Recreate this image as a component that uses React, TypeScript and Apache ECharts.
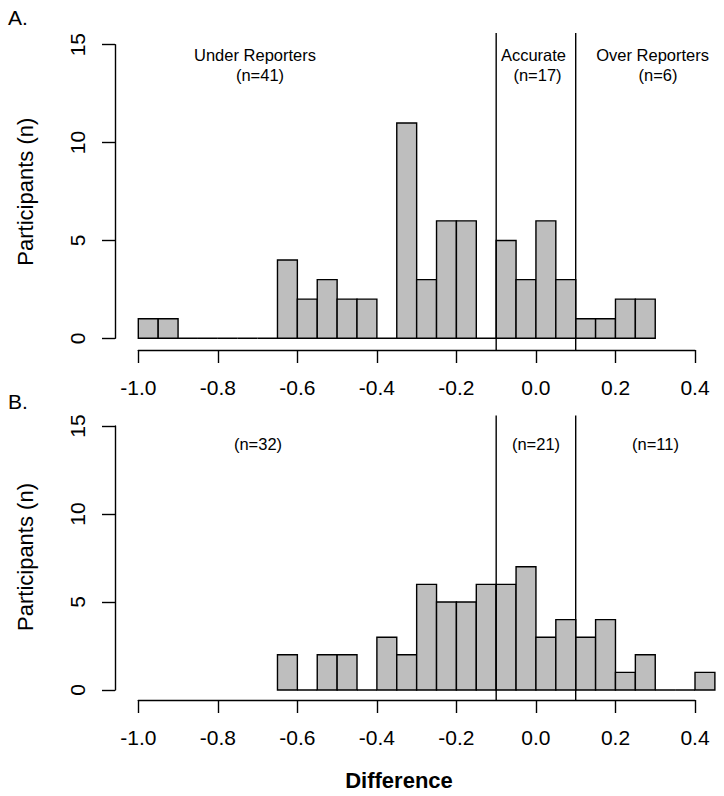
import React, { useEffect, useRef } from "react";
import * as echarts from "echarts";

// Bin left edges (width 0.05) and counts
const binStartsA = [-1.0, -0.95, -0.9, -0.85, -0.8, -0.75, -0.7, -0.65, -0.6, -0.55, -0.5, -0.45, -0.4, -0.35, -0.3, -0.25, -0.2, -0.15, -0.1, -0.05, 0.0, 0.05, 0.1, 0.15, 0.2, 0.25];
const countsA = [1, 1, 0, 0, 0, 0, 0, 4, 2, 3, 2, 2, 0, 11, 3, 6, 6, 0, 5, 3, 6, 3, 1, 1, 2, 2];
const binStartsB = [-0.65, -0.6, -0.55, -0.5, -0.45, -0.4, -0.35, -0.3, -0.25, -0.2, -0.15, -0.1, -0.05, 0.0, 0.05, 0.1, 0.15, 0.2, 0.25, 0.3, 0.35, 0.4];
const countsB = [2, 0, 2, 2, 0, 3, 2, 6, 5, 5, 6, 6, 7, 3, 4, 3, 4, 1, 2, 0, 0, 1];
const binWidth = 0.05;
const cutoffs = [-0.1, 0.1];
const xTicks = { min: -1.0, max: 0.4, interval: 0.2 };
const yTicks = { min: 0, max: 15, interval: 5 };
const groupLabelsA = [["Under Reporters", "(n=41)"], ["Accurate", "(n=17)"], ["Over Reporters", "(n=6)"]];
const groupLabelsB = ["(n=32)", "(n=21)", "(n=11)"];

const FONT = '"Liberation Sans", Arial, Helvetica, sans-serif';
const GX = 138.3;
const GW = 556.7;
const GA = { top: 44.7, height: 293.6 };
const GB = { top: 426, height: 264 };

function text(x: number, y: number, t: string, size: number, opts: any = {}) {
  const align = opts.align || "center";
  return {
    type: "text",
    x,
    y,
    rotation: opts.rotation || 0,
    silent: true,
    style: {
      text: t,
      fill: "#000",
      font: `${opts.weight || "normal"} ${size}px ${FONT}`,
      align,
      verticalAlign: "middle",
      textAlign: align,
      textVerticalAlign: "middle",
    },
  };
}

export default function App() {
  const ref = useRef<HTMLDivElement>(null);
  useEffect(() => {
    if (!ref.current) return;
    const chart = echarts.init(ref.current, undefined, { renderer: "svg" });
    const histData = (starts: number[], counts: number[]) =>
      starts.map((s, i) => [s, s + binWidth, counts[i]]);
    const renderBar = (params: any, api: any) => {
      const p0 = api.coord([api.value(0), 0]);
      const p1 = api.coord([api.value(1), api.value(2)]);
      return {
        type: "rect",
        shape: { x: p0[0], y: p1[1], width: p1[0] - p0[0], height: p0[1] - p1[1] },
        style: { fill: "#bebebe", stroke: "#000", lineWidth: 1.4 },
      };
    };
    const xAxisBase = (gridIndex: number, offset: number) => ({
      type: "value",
      gridIndex,
      min: xTicks.min,
      max: xTicks.max,
      interval: xTicks.interval,
      offset,
      axisLine: { show: true, onZero: false, lineStyle: { color: "#000", width: 1.4 } },
      axisTick: { show: true, length: 13, lineStyle: { color: "#000", width: 1.4 } },
      axisLabel: {
        show: true,
        color: "#000",
        fontSize: 21,
        fontFamily: FONT,
        margin: 27,
        showMinLabel: true,
        showMaxLabel: true,
        formatter: (v: number) => (Math.abs(v) < 1e-9 ? "0.0" : v.toFixed(1)),
      },
      splitLine: { show: false },
    });
    const yAxisBase = (gridIndex: number) => ({
      type: "value",
      gridIndex,
      min: yTicks.min,
      max: yTicks.max,
      interval: yTicks.interval,
      offset: 23.3,
      axisLine: { show: true, onZero: false, lineStyle: { color: "#000", width: 1.4 } },
      axisTick: { show: true, length: 13, lineStyle: { color: "#000", width: 1.4 } },
      axisLabel: {
        show: true,
        color: "#000",
        fontSize: 21,
        fontFamily: FONT,
        rotate: 90,
        margin: 27,
        showMinLabel: true,
        showMaxLabel: true,
      },
      splitLine: { show: false },
    });
    const cutLines = (xi: number) =>
      cutoffs.map((c) => ({
        type: "line",
        xAxisIndex: xi,
        yAxisIndex: xi,
        data: [[c, -0.6], [c, 15.6]],
        symbol: "none",
        clip: false,
        silent: true,
        lineStyle: { color: "#000", width: 1.4 },
        z: 5,
      }));

    const labelXA = [255, 533.5, 652.6];
    const labelX2A = [260, 537.5, 658];
    const labelXB = [258, 536, 655.5];

    const graphic: any[] = [
      text(8, 17.6, "A.", 21, { align: "left" }),
      text(8, 401, "B.", 21, { align: "left" }),
      text(25, 191.7, "Participants (n)", 22, { rotation: Math.PI / 2 }),
      text(25, 557, "Participants (n)", 22, { rotation: Math.PI / 2 }),
      text(399, 780, "Difference", 22, { weight: "bold" }),
    ];
    groupLabelsA.forEach((pair, i) => {
      graphic.push(text(labelXA[i], 55.3, pair[0], 16.5));
      graphic.push(text(labelX2A[i], 74.5, pair[1], 16.5));
    });
    groupLabelsB.forEach((t, i) => {
      graphic.push(text(labelXB[i], 444, t, 16.5));
    });

    chart.setOption({
      animation: false,
      backgroundColor: "#fff",
      textStyle: { fontFamily: FONT },
      grid: [
        { left: GX, width: GW, top: GA.top, height: GA.height },
        { left: GX, width: GW, top: GB.top, height: GB.height },
      ],
      xAxis: [xAxisBase(0, 11.7), xAxisBase(1, 10)],
      yAxis: [yAxisBase(0), yAxisBase(1)],
      series: [
        {
          type: "custom",
          xAxisIndex: 0,
          yAxisIndex: 0,
          data: histData(binStartsA, countsA),
          encode: { x: [0, 1], y: 2 },
          renderItem: renderBar,
          clip: false,
          silent: true,
        },
        {
          type: "custom",
          xAxisIndex: 1,
          yAxisIndex: 1,
          data: histData(binStartsB, countsB),
          encode: { x: [0, 1], y: 2 },
          renderItem: renderBar,
          clip: false,
          silent: true,
        },
        ...cutLines(0),
        ...cutLines(1),
      ],
      graphic,
    });
    return () => chart.dispose();
  }, []);
  return (
    <div
      ref={ref}
      style={{ position: "fixed", left: 0, top: 0, width: 724, height: 796, background: "#fff" }}
    />
  );
}
